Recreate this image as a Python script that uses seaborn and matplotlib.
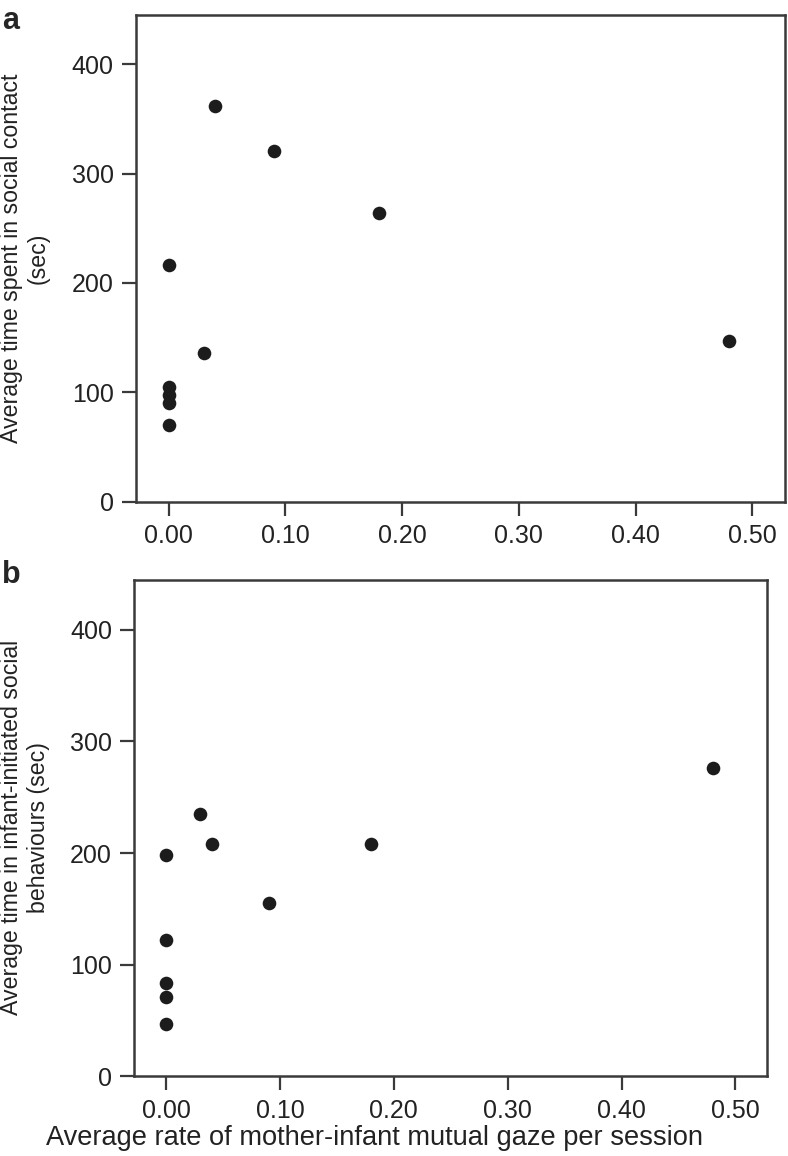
import matplotlib
matplotlib.use("Agg")
import matplotlib.pyplot as plt
import numpy as np
import pandas as pd
import seaborn as sns

# --- data ------------------------------------------------------------------
gaze_rate = [0.00, 0.00, 0.00, 0.00, 0.00, 0.03, 0.04, 0.09, 0.18, 0.48]
social_contact = [216, 105, 98, 90, 70, 136, 362, 321, 264, 147]
infant_initiated = [198, 122, 84, 71, 47, 235, 208, 155, 208, 276]

x_ticks = [0.00, 0.10, 0.20, 0.30, 0.40, 0.50]
y_ticks = [0, 100, 200, 300, 400]

# ---------------------------------------------------------------------------
sns.set_style('ticks')
plt.rcParams['font.family'] = ['Liberation Sans', 'DejaVu Sans']

TICK_FS = 18
LABEL_FS = 16.7
XLABEL_FS = 19.6

df = pd.DataFrame({'gaze': gaze_rate,
                   'contact': social_contact,
                   'initiated': infant_initiated})

fig = plt.figure(figsize=(7.88, 11.56), dpi=100)
ax_a = fig.add_axes([0.1726, 0.566, 0.8236, 0.421])
ax_b = fig.add_axes([0.1704, 0.0689, 0.8033, 0.4298])

spine_col = '#3a3a3a'

def style_panel(ax):
    ax.set_xlim(-0.028, 0.528)
    ax.set_ylim(0, 445)
    ax.set_xticks(x_ticks)
    ax.set_xticklabels([f'{v:.2f}' for v in x_ticks])
    ax.set_yticks(y_ticks)
    for s in ax.spines.values():
        s.set_color(spine_col)
        s.set_linewidth(1.8)
    ax.tick_params(axis='both', direction='out', length=10, width=1.6,
                   color=spine_col, labelsize=TICK_FS, labelcolor='#222222')
    ax.tick_params(axis='x', pad=6)
    ax.tick_params(axis='y', pad=6)

sns.scatterplot(data=df, x='gaze', y='contact', ax=ax_a, s=96,
                color='#1c1c1c', linewidth=0, legend=False)
style_panel(ax_a)
ax_a.set_xlabel('')
ax_a.set_ylabel('Average time spent in social contact\n(sec)',
                fontsize=LABEL_FS, color='#222222', multialignment='center')
ax_a.yaxis.set_label_coords(-0.133, 0.5)

sns.scatterplot(data=df, x='gaze', y='initiated', ax=ax_b, s=96,
                color='#1c1c1c', linewidth=0, legend=False)
style_panel(ax_b)
ax_b.set_xlabel('Average rate of mother-infant mutual gaze per session',
                fontsize=XLABEL_FS, color='#222222')
ax_b.xaxis.set_label_coords(0.379, -0.124)
ax_b.xaxis.label.set_va('center')
ax_b.set_ylabel('Average time in infant-initiated social\nbehaviours (sec)',
                fontsize=LABEL_FS, color='#222222', multialignment='center')
ax_b.yaxis.set_label_coords(-0.133, 0.5)

fig.text(0.003, 0.995, 'a', fontsize=22, fontweight='bold', va='top', ha='left')
fig.text(0.003, 0.516, 'b', fontsize=22, fontweight='bold', va='top', ha='left')

fig.savefig('out.png', dpi=100, facecolor='white')
